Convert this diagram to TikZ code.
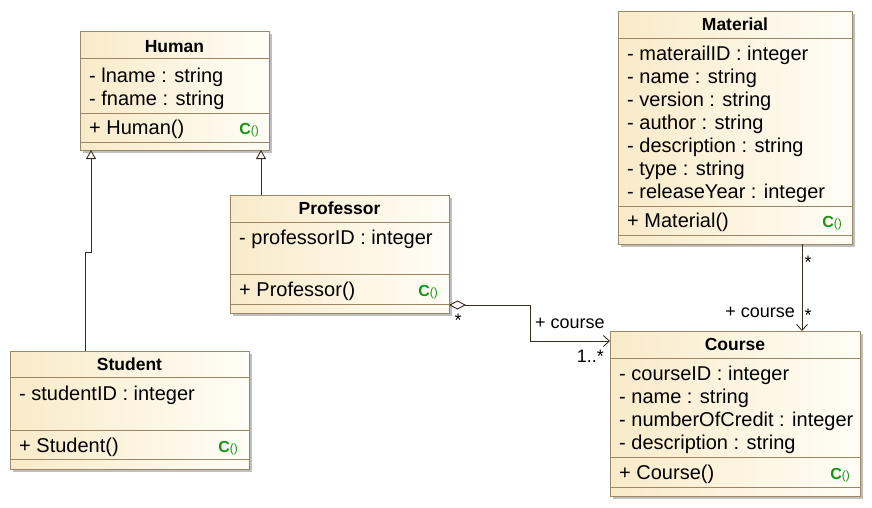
\documentclass[tikz,border=0pt]{standalone}
\usepackage{fontspec}
\setmainfont{Liberation Sans}
\usetikzlibrary{arrows.meta,calc,shadows}
\definecolor{umlborder}{RGB}{155,135,100}
\definecolor{umlleft}{RGB}{249,235,201}
\definecolor{umlright}{RGB}{255,253,246}
\definecolor{umlline}{RGB}{55,45,30}
\definecolor{ctorgreen}{RGB}{20,150,20}
\tikzset{
  classbox/.style={draw=umlborder, line width=0.9pt, left color=umlleft, right color=umlright,
    inner sep=0pt, outer sep=0pt, anchor=north west,
    drop shadow={shadow xshift=2.5pt, shadow yshift=-2.5pt, fill=black, opacity=0.25}},
  sepline/.style={draw=umlborder, line width=0.9pt},
  ctitle/.style={font=\fontsize{17.5}{20}\selectfont\bfseries, anchor=base, inner sep=0pt},
  attr/.style={font=\fontsize{20}{22}\selectfont, anchor=base west, inner sep=0pt},
  ctor/.style={anchor=base east, inner sep=0pt, text=ctorgreen},
  lbl/.style={font=\fontsize{18}{20}\selectfont, inner sep=0pt},
  conn/.style={draw=umlline, line width=0.9pt},
  gen/.style={conn, -{Triangle[length=9pt,width=10pt,fill=white]}},
  agg/.style={conn, {Diamond[open,length=17pt,width=9pt]}-{Straight Barb[length=6pt,width=11pt]}},
  nav/.style={conn, -{Straight Barb[length=6pt,width=11pt]}}
}
\newcommand\umlclass[5]{\node[classbox, minimum width=#4pt, minimum height=#5pt] (#1) at (#2,#3) {};}
\newcommand\umlsep[2]{\draw[sepline] ($(#1.north west)+(0,#2)$) -- ($(#1.north east)+(0,#2)$);}
\newcommand\ctoricon{{\fontsize{16}{16}\selectfont\bfseries C}{\fontsize{12}{12}\selectfont()}}
\begin{document}
\begin{tikzpicture}[x=1pt,y=-1pt]
\useasboundingbox (0,0) rectangle (872,507);
\fill[white] (0,0) rectangle (872,507);

% ---------- Human ----------
\umlclass{human}{80}{31}{189}{119}
\umlsep{human}{27}\umlsep{human}{82}\umlsep{human}{111}
\node[ctitle] (human-t) at ($(human.north)+(0,21)$) {Human};
\node[attr] (human-a1) at ($(human.north west)+(9,51)$) {- lname : string};
\node[attr] (human-a2) at ($(human.north west)+(9,74)$) {- fname : string};
\node[attr] (human-m1) at ($(human.north west)+(9,103)$) {+ Human()};
\node[ctor] (human-c) at ($(human.north east)+(-10,103)$) {\ctoricon};

% ---------- Professor ----------
\umlclass{prof}{230}{195}{219}{118}
\umlsep{prof}{27}\umlsep{prof}{79}\umlsep{prof}{109}
\node[ctitle] (prof-t) at ($(prof.north)+(0,19)$) {Professor};
\node[attr] (prof-a1) at ($(prof.north west)+(9,49)$) {- professorID : integer};
\node[attr] (prof-m1) at ($(prof.north west)+(9,101)$) {+ Professor()};
\node[ctor] (prof-c) at ($(prof.north east)+(-11,101)$) {\ctoricon};

% ---------- Student ----------
\umlclass{stu}{10}{351}{239}{118}
\umlsep{stu}{26}\umlsep{stu}{79}\umlsep{stu}{108}
\node[ctitle] (stu-t) at ($(stu.north)+(0,19)$) {Student};
\node[attr] (stu-a1) at ($(stu.north west)+(9,49)$) {- studentID : integer};
\node[attr] (stu-m1) at ($(stu.north west)+(9,101)$) {+ Student()};
\node[ctor] (stu-c) at ($(stu.north east)+(-11,101)$) {\ctoricon};

% ---------- Material ----------
\umlclass{mat}{618}{11}{234}{233}
\umlsep{mat}{27}\umlsep{mat}{195}\umlsep{mat}{224}
\node[ctitle] (mat-t) at ($(mat.north)+(0,19)$) {Material};
\node[attr] (mat-a1) at ($(mat.north west)+(9,49)$) {- materailID : integer};
\node[attr] (mat-a2) at ($(mat.north west)+(9,72)$) {- name : string};
\node[attr] (mat-a3) at ($(mat.north west)+(9,95)$) {- version : string};
\node[attr] (mat-a4) at ($(mat.north west)+(9,118)$) {- author : string};
\node[attr] (mat-a5) at ($(mat.north west)+(9,141)$) {- description : string};
\node[attr] (mat-a6) at ($(mat.north west)+(9,164)$) {- type : string};
\node[attr] (mat-a7) at ($(mat.north west)+(9,187)$) {- releaseYear : integer};
\node[attr] (mat-m1) at ($(mat.north west)+(9,216)$) {+ Material()};
\node[ctor] (mat-c) at ($(mat.north east)+(-10,216)$) {\ctoricon};

% ---------- Course ----------
\umlclass{course}{610}{331}{250}{165}
\umlsep{course}{27}\umlsep{course}{126}\umlsep{course}{156}
\node[ctitle] (course-t) at ($(course.north)+(0,19)$) {Course};
\node[attr] (course-a1) at ($(course.north west)+(9,49)$) {- courseID : integer};
\node[attr] (course-a2) at ($(course.north west)+(9,72)$) {- name : string};
\node[attr] (course-a3) at ($(course.north west)+(9,95)$) {- numberOfCredit : integer};
\node[attr] (course-a4) at ($(course.north west)+(9,118)$) {- description : string};
\node[attr] (course-m1) at ($(course.north west)+(9,148)$) {+ Course()};
\node[ctor] (course-c) at ($(course.north east)+(-10,148)$) {\ctoricon};

% ---------- connectors ----------
% Student -> Human (generalization)
\coordinate (stuTop) at ($(stu.north west)+(75,0)$);
\coordinate (humBotL) at ($(human.south west)+(11,0)$);
\coordinate (jog) at ($(humBotL)+(0,102)$);
\draw[gen] (stuTop) |- (jog) -- (humBotL);

% Professor -> Human (generalization)
\coordinate (profTop) at ($(prof.north west)+(31,0)$);
\draw[gen] (profTop) -- (profTop |- human.south);

% Professor <>-- Course (aggregation)
\coordinate (profR) at ($(prof.north east)+(0,110)$);
\coordinate (courseL) at ($(course.north west)+(0,10)$);
\coordinate (aggBend) at (530,0 |- courseL);
\draw[agg] (profR) -| (aggBend) -- (courseL);
\node[lbl, anchor=base] (agg-m1) at ($(profR)+(9,21)$) {*};
\node[lbl, anchor=base west] (agg-r) at ($(aggBend)+(5,-13)$) {+ course};
\node[lbl, anchor=base east] (agg-m2) at ($(courseL)+(-6,21)$) {1..*};

% Material -> Course (association)
\coordinate (matBot) at ($(mat.south west)+(184,0)$);
\draw[nav] (matBot) -- (matBot |- course.north);
\node[lbl, anchor=base] (nav-m1) at ($(matBot)+(6,24)$) {*};
\node[lbl, anchor=base] (nav-m2) at ($(matBot)+(6,77)$) {*};
\node[lbl, anchor=base east] (nav-r) at ($(matBot)+(-7,73)$) {+ course};
\end{tikzpicture}
\end{document}
